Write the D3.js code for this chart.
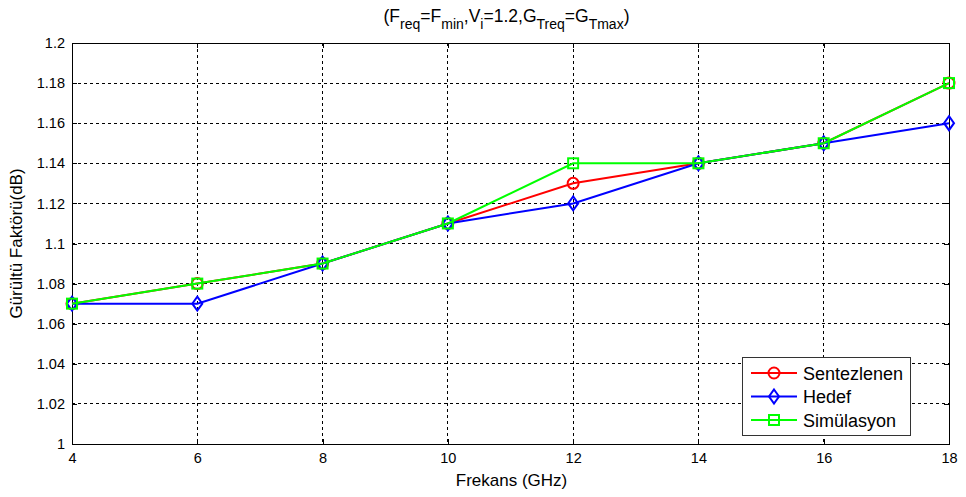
<!DOCTYPE html>
<html>
<head>
<meta charset="utf-8">
<script src="https://cdn.jsdelivr.net/npm/d3@7"></script>
<style>
  body { margin: 0; background: #fff; }
  svg { display: block; font-family: "Liberation Sans", Arial, sans-serif; }
</style>
</head>
<body>
<svg id="chart" width="966" height="497"></svg>
<script>
// Frequency points (GHz) and noise figure values (dB)
const frequencies = [4, 6, 8, 10, 12, 14, 16, 18];
const sentezlenen = [1.07, 1.08, 1.09, 1.11, 1.13, 1.14, 1.15, 1.18];
const hedef       = [1.07, 1.07, 1.09, 1.11, 1.12, 1.14, 1.15, 1.16];
const simulasyon  = [1.07, 1.08, 1.09, 1.11, 1.14, 1.14, 1.15, 1.18];
const xTicks = [4, 6, 8, 10, 12, 14, 16, 18];
const yTicks = [1, 1.02, 1.04, 1.06, 1.08, 1.1, 1.12, 1.14, 1.16, 1.18, 1.2];
const seriesNames = ["Sentezlenen", "Hedef", "Simülasyon"];
const seriesColors = ["#ff0000", "#0000ff", "#00ff00"];
const seriesMarkers = ["circle", "diamond", "square"];

const svg = d3.select("#chart");
const L = 72, R = 949, T = 43, B = 444;

const x = d3.scaleLinear().domain([4, 18]).range([L, R]);
const y = d3.scaleLinear().domain([1, 1.2]).range([B, T]);

// grid
const grid = svg.append("g").attr("stroke", "#000").attr("stroke-width", 1)
  .attr("stroke-dasharray", "3,3").attr("shape-rendering", "crispEdges");
xTicks.slice(1, -1).forEach(t => {
  grid.append("line").attr("x1", x(t)).attr("x2", x(t)).attr("y1", T).attr("y2", B);
});
yTicks.slice(1, -1).forEach(t => {
  grid.append("line").attr("x1", L).attr("x2", R).attr("y1", y(t)).attr("y2", y(t));
});

// axes (ticks inward)
const fmt = d => String(+d.toFixed(2));
const xAxis = svg.append("g").attr("transform", `translate(0,${B})`)
  .call(d3.axisBottom(x).tickValues(xTicks).tickSize(-5).tickPadding(9).tickFormat(fmt));
const xAxisTop = svg.append("g").attr("transform", `translate(0,${T})`)
  .call(d3.axisTop(x).tickValues(xTicks).tickSize(-5).tickFormat(""));
const yAxis = svg.append("g").attr("transform", `translate(${L},0)`)
  .call(d3.axisLeft(y).tickValues(yTicks).tickSize(-5).tickPadding(7).tickFormat(fmt));
const yAxisRight = svg.append("g").attr("transform", `translate(${R},0)`)
  .call(d3.axisRight(y).tickValues(yTicks).tickSize(-5).tickFormat(""));
[xAxis, xAxisTop, yAxis, yAxisRight].forEach(a => {
  a.selectAll("path").attr("stroke", "#000").attr("stroke-width", 1.3).attr("shape-rendering", "crispEdges");
  a.selectAll("line").attr("stroke", "#000").attr("shape-rendering", "crispEdges");
  a.selectAll("text").attr("fill", "#000").style("font-size", "14.5px")
    .style("font-family", "'Liberation Sans', Arial, sans-serif");
});

// axis labels
svg.append("text").attr("x", (L + R) / 2 + 1).attr("y", 486).attr("text-anchor", "middle")
  .style("font-size", "17px").text("Frekans (GHz)");
svg.append("text").attr("transform", `translate(22,${(T + B) / 2}) rotate(-90)`)
  .attr("text-anchor", "middle").style("font-size", "17px").text("Gürültü Faktörü(dB)");

// title with subscripts
const title = svg.append("text").attr("x", (L + R) / 2 - 4).attr("y", 22)
  .attr("text-anchor", "middle").style("font-size", "17.5px");
const parts = [["(F", 0], ["req", 1], ["=F", 0], ["min", 1], [",V", 0], ["i", 1],
  ["=1.2,G", 0], ["Treq", 1], ["=G", 0], ["Tmax", 1], [")", 0]];
let prevSub = false;
parts.forEach(([s, sub]) => {
  const ts = title.append("tspan").text(s);
  if (sub && !prevSub) ts.attr("dy", 7);
  else if (!sub && prevSub) ts.attr("dy", -7);
  if (sub) ts.style("font-size", "14px");
  prevSub = !!sub;
});

// series
const line = d3.line().x((d, i) => x(frequencies[i])).y(d => y(d));
const allSeries = [sentezlenen, hedef, simulasyon];

function drawMarker(g, kind, cx, cy, color) {
  if (kind === "circle") {
    g.append("circle").attr("cx", cx).attr("cy", cy).attr("r", 5.5)
      .attr("fill", "none").attr("stroke", color).attr("stroke-width", 2);
  } else if (kind === "diamond") {
    g.append("path").attr("d", `M${cx},${cy - 7}L${cx + 5},${cy}L${cx},${cy + 7}L${cx - 5},${cy}Z`)
      .attr("fill", "none").attr("stroke", color).attr("stroke-width", 2);
  } else {
    g.append("rect").attr("x", cx - 5).attr("y", cy - 5).attr("width", 10).attr("height", 10)
      .attr("fill", "none").attr("stroke", color).attr("stroke-width", 2);
  }
}

allSeries.forEach((vals, si) => {
  const g = svg.append("g");
  g.append("path").datum(vals).attr("d", line).attr("fill", "none")
    .attr("stroke", seriesColors[si]).attr("stroke-width", 2);
  vals.forEach((v, i) => drawMarker(g, seriesMarkers[si], x(frequencies[i]), y(v), seriesColors[si]));
});

// legend
const lg = svg.append("g");
lg.append("rect").attr("x", 742).attr("y", 357).attr("width", 168).attr("height", 78)
  .attr("fill", "#fff").attr("stroke", "#333").attr("stroke-width", 1).attr("shape-rendering", "crispEdges");
seriesNames.forEach((name, i) => {
  const cy = 373 + i * 23.5;
  lg.append("line").attr("x1", 751).attr("x2", 797).attr("y1", cy).attr("y2", cy)
    .attr("stroke", seriesColors[i]).attr("stroke-width", 2);
  drawMarker(lg, seriesMarkers[i], 774, cy, seriesColors[i]);
  lg.append("text").attr("x", 803).attr("y", cy + 6.5).style("font-size", "18px")
    .attr("fill", "#000").text(name);
});
</script>
</body>
</html>
